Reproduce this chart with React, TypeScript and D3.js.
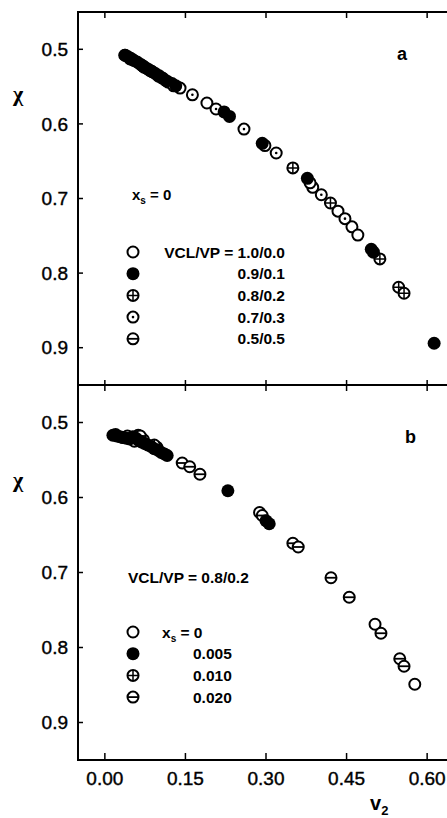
import React from "react";
import * as d3 from "d3";

// panel a: VCL/VP ratio series, x_s = 0  [v2, chi]
const a_10_00 = [[0.037, 0.508], [0.052, 0.514], [0.070, 0.522], [0.088, 0.530], [0.106, 0.538], [0.125, 0.546], [0.190, 0.572], [0.387, 0.685], [0.434, 0.717], [0.460, 0.738], [0.471, 0.749]];
const a_09_01 = [[0.038, 0.508], [0.043, 0.510], [0.048, 0.512], [0.054, 0.515], [0.060, 0.517], [0.066, 0.520], [0.072, 0.523], [0.079, 0.526], [0.086, 0.529], [0.093, 0.532], [0.100, 0.535], [0.108, 0.539], [0.114, 0.542], [0.132, 0.549], [0.222, 0.584], [0.232, 0.590], [0.293, 0.626], [0.377, 0.673], [0.496, 0.768], [0.500, 0.772], [0.613, 0.894]];
const a_08_02 = [[0.100, 0.536], [0.350, 0.659], [0.420, 0.706], [0.512, 0.781], [0.547, 0.819], [0.557, 0.827]];
const a_07_03 = [[0.083, 0.528], [0.118, 0.544], [0.140, 0.552], [0.163, 0.561], [0.207, 0.580], [0.259, 0.607], [0.298, 0.629], [0.319, 0.639], [0.382, 0.679], [0.403, 0.695], [0.447, 0.727]];
const a_05_05 = [[0.047, 0.513], [0.073, 0.524], [0.128, 0.549]];

// panel b: VCL/VP = 0.8/0.2, x_s series
const b_000 = [[0.020, 0.516], [0.042, 0.518], [0.062, 0.517], [0.097, 0.533], [0.288, 0.620], [0.503, 0.769], [0.577, 0.849]];
const b_005 = [[0.015, 0.517], [0.022, 0.518], [0.028, 0.519], [0.034, 0.520], [0.040, 0.521], [0.046, 0.522], [0.052, 0.519], [0.058, 0.521], [0.063, 0.524], [0.068, 0.526], [0.074, 0.528], [0.080, 0.530], [0.086, 0.532], [0.092, 0.535], [0.099, 0.537], [0.105, 0.540], [0.111, 0.542], [0.116, 0.544], [0.229, 0.591], [0.300, 0.631], [0.306, 0.635]];
const b_010 = [[0.033, 0.520], [0.072, 0.523], [0.092, 0.530]];
const b_020 = [[0.055, 0.525], [0.066, 0.518], [0.144, 0.554], [0.158, 0.559], [0.177, 0.569], [0.293, 0.624], [0.350, 0.661], [0.360, 0.666], [0.421, 0.707], [0.455, 0.733], [0.514, 0.781], [0.549, 0.815], [0.557, 0.825]];

const xTicks = [0.0, 0.15, 0.3, 0.45, 0.6];
const yTicks = [0.5, 0.6, 0.7, 0.8, 0.9];
const legendA = ["VCL/VP = 1.0/0.0", "0.9/0.1", "0.8/0.2", "0.7/0.3", "0.5/0.5"];
const legendB = ["0.005", "0.010", "0.020"];

const R = 5.5;
const SW = 2;
const font = "Arial, 'Liberation Sans', sans-serif";

function Marker({ x, y, kind }: { x: number; y: number; kind: string }) {
  if (kind === "filled") return <circle cx={x} cy={y} r={R + 1} fill="#000" />;
  return (
    <g>
      <circle cx={x} cy={y} r={R} fill="#fff" stroke="#000" strokeWidth={SW} />
      {kind === "dot" && <circle cx={x} cy={y} r={1.3} fill="#000" />}
      {kind === "plus" && (
        <path d={`M${x - R},${y}H${x + R}M${x},${y - R}V${y + R}`} stroke="#000" strokeWidth={1.5} />
      )}
      {kind === "minus" && <path d={`M${x - R},${y}H${x + R}`} stroke="#000" strokeWidth={1.8} />}
    </g>
  );
}

export default function App() {
  const x = d3.scaleLinear().domain([-0.05, 0.65]).range([78, 454]);
  const ya = d3.scaleLinear().domain([0.45, 0.95]).range([12, 385]);
  const yb = d3.scaleLinear().domain([0.45, 0.95]).range([385, 760]);
  const left = x(-0.05);
  const right = x(0.65);

  // hollow markers first, filled on top (dense bands read as solid black)
  const seriesA: [number[][], string][] = [
    [a_10_00, "open"], [a_08_02, "plus"], [a_07_03, "dot"], [a_05_05, "minus"], [a_09_01, "filled"],
  ];
  const seriesB: [number[][], string][] = [
    [b_000, "open"], [b_010, "plus"], [b_020, "minus"], [b_005, "filled"],
  ];
  const kindsA = ["open", "filled", "plus", "dot", "minus"];
  const kindsB = ["open", "filled", "plus", "minus"];

  const yAxis = (y: d3.ScaleLinear<number, number>) => (
    <g>
      {yTicks.map((t) => (
        <g key={t}>
          <line x1={left} x2={left + 5} y1={y(t)} y2={y(t)} stroke="#000" strokeWidth={1.5} />
          <line x1={right - 6} x2={right} y1={y(t)} y2={y(t)} stroke="#000" strokeWidth={1.5} />
          <text x={68} y={y(t)} dy="0.35em" textAnchor="end" fontSize={19} fontFamily={font} stroke="#000" strokeWidth={0.4}>
            {t.toFixed(1)}
          </text>
        </g>
      ))}
    </g>
  );

  return (
    <svg width={447} height={818} style={{ position: "absolute", left: 0, top: 0, background: "#fff" }}>
      <rect width={447} height={818} fill="#fff" />
      {/* frames */}
      <rect x={left} y={ya.range()[0]} width={right - left} height={yb.range()[1] - ya.range()[0]} fill="none" stroke="#000" strokeWidth={2} />
      <line x1={left} x2={right} y1={385} y2={385} stroke="#000" strokeWidth={2} />
      {xTicks.map((t) => (
        <g key={t}>
          <line x1={x(t)} x2={x(t)} y1={12} y2={18} stroke="#000" strokeWidth={1.5} />
          <line x1={x(t)} x2={x(t)} y1={380} y2={391} stroke="#000" strokeWidth={1.5} />
          <line x1={x(t)} x2={x(t)} y1={753} y2={760} stroke="#000" strokeWidth={1.5} />
          <text x={x(t)} y={785} textAnchor="middle" fontSize={19} fontFamily={font} stroke="#000" strokeWidth={0.4}>
            {t.toFixed(2)}
          </text>
        </g>
      ))}
      {yAxis(ya)}
      {yAxis(yb)}

      <text x={13} y={101} fontSize={22} fontFamily="'Liberation Serif', serif" fontWeight="bold">χ</text>
      <text x={13} y={487} fontSize={22} fontFamily="'Liberation Serif', serif" fontWeight="bold">χ</text>
      <text x={370} y={810} fontSize={20} fontWeight="bold" fontFamily={font}>
        v<tspan fontSize={13} dy={5}>2</tspan>
      </text>

      {/* panel a */}
      <text x={397} y={60} fontSize={18} fontWeight="bold" fontFamily={font}>a</text>
      <text x={132} y={200} fontSize={15} fontWeight="bold" fontFamily={font}>
        x<tspan fontSize={10} dy={4}>s</tspan><tspan dy={-4}> = 0</tspan>
      </text>
      {seriesA.map(([data, kind]) =>
        data.map((d, i) => <Marker key={kind + i} x={x(d[0])} y={ya(d[1])} kind={kind} />)
      )}
      {legendA.map((label, i) => {
        const cy = 252 + i * 21.7;
        return (
          <g key={label}>
            <Marker x={133} y={cy} kind={kindsA[i]} />
            <text x={285} y={cy} dy="0.36em" textAnchor="end" fontSize={15.5} fontWeight="bold" fontFamily={font}>
              {label}
            </text>
          </g>
        );
      })}

      {/* panel b */}
      <text x={405} y={443} fontSize={18} fontWeight="bold" fontFamily={font}>b</text>
      <text x={128} y={577} dy="0.36em" fontSize={15.5} fontWeight="bold" fontFamily={font}>VCL/VP = 0.8/0.2</text>
      {seriesB.map(([data, kind]) =>
        data.map((d, i) => <Marker key={kind + i} x={x(d[0])} y={yb(d[1])} kind={kind} />)
      )}
      {kindsB.map((kind, i) => {
        const cy = 632 + i * 21.7;
        return (
          <g key={kind}>
            <Marker x={133} y={cy} kind={kind} />
            {i === 0 ? (
              <text x={162} y={cy} dy="0.36em" fontSize={15.5} fontWeight="bold" fontFamily={font}>
                x<tspan fontSize={10} dy={4}>s</tspan><tspan dy={-4}> = 0</tspan>
              </text>
            ) : (
              <text x={193} y={cy} dy="0.36em" fontSize={15.5} fontWeight="bold" fontFamily={font}>
                {legendB[i - 1]}
              </text>
            )}
          </g>
        );
      })}
    </svg>
  );
}
